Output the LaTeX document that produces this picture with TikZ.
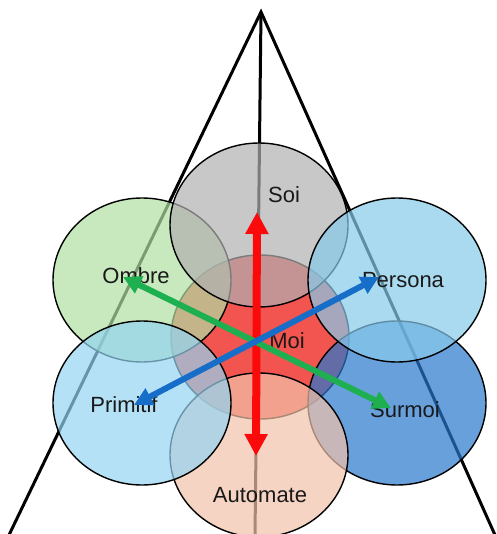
\documentclass[tikz,border=0pt]{standalone}
\usepackage{fontspec}
\setmainfont{Liberation Sans}
\usetikzlibrary{shapes.geometric,arrows.meta}
\definecolor{cmoi}{RGB}{242,84,80}
\definecolor{combre}{RGB}{176,222,162}
\definecolor{csoi}{RGB}{176,176,176}
\definecolor{cpersona}{RGB}{134,202,234}
\definecolor{csurmoi}{RGB}{40,119,205}
\definecolor{cprimitif}{RGB}{148,212,241}
\definecolor{cautomate}{RGB}{241,194,169}
\definecolor{cred}{RGB}{250,10,10}
\definecolor{cgreen}{RGB}{30,176,80}
\definecolor{cblue}{RGB}{22,110,200}
\begin{document}
\begin{tikzpicture}[x=1pt,y=-1pt,
  blob/.style={ellipse, draw=black, line width=1.4pt, minimum width=178pt,
    minimum height=164pt, inner sep=0pt, fill opacity=0.7},
  lbl/.style={font=\fontsize{22}{22}\selectfont, text=black!90, inner sep=0pt, anchor=base},
  tri/.style={line width=3pt, black},
  dbl/.style={line width=#1}]
\useasboundingbox (0,0) rectangle (496,534);
\clip (0,0) rectangle (496,534);
% triangle
\coordinate (apex) at (261,12);
\coordinate (bl) at (9,535);
\coordinate (br) at (495,535);
\coordinate (bm) at (255,535);
\draw[tri, line join=miter] (bl) -- (apex) -- (br);
\draw[tri] (apex) -- (bm);
% circles
\node[blob, fill=cmoi, fill opacity=1] (moi) at (260,337) {};
\node[blob, fill=combre] (ombre) at (142,280) {};
\node[blob, fill=csoi] (soi) at (259,225) {};
\node[blob, fill=csurmoi] (surmoi) at (397,403) {};
\node[blob, fill=cpersona] (persona) at (397,280) {};
\node[blob, fill=cautomate] (automate) at (259,455) {};
\node[blob, fill=cprimitif] (primitif) at (142,403) {};
% labels
\node[lbl] (tsoi) at (284,203) {Soi};
\node[lbl] (tombre) at (136,283) {Ombre};
\node[lbl] (tpersona) at (403,287) {Persona};
\node[lbl] (tmoi) at (287,348) {Moi};
\node[lbl] (tprimitif) at (124,412) {Primitif};
\node[lbl] (tsurmoi) at (405,417) {Surmoi};
\node[lbl] (tautomate) at (260,502) {Automate};
% arrows
\coordinate (rtop) at (257,212);
\coordinate (rbot) at (256,456);
\coordinate (gl) at (123,277);
\coordinate (gr) at (391,408);
\coordinate (bll) at (134,405);
\coordinate (bur) at (379,277);
\draw[cred, line width=8pt, {Triangle[length=22pt,width=22pt]}-{Triangle[length=22pt,width=22pt]}] (rtop) -- (rbot);
\draw[cgreen, line width=6pt, {Triangle[length=18pt,width=18pt]}-{Triangle[length=18pt,width=18pt]}] (gl) -- (gr);
\draw[cblue, line width=6pt, {Triangle[length=18pt,width=18pt]}-{Triangle[length=18pt,width=18pt]}] (bll) -- (bur);
\end{tikzpicture}
\end{document}
